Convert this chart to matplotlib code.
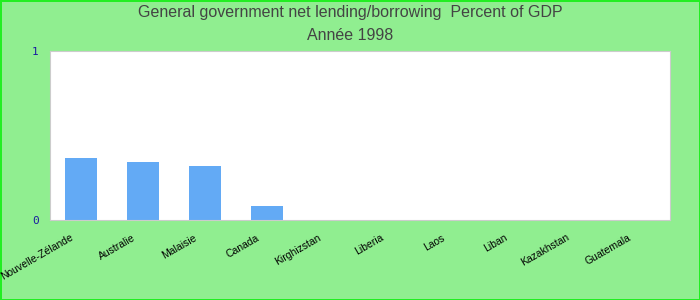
import matplotlib
matplotlib.use("Agg")
import matplotlib.pyplot as plt
from matplotlib.transforms import ScaledTranslation

countries = ["Nouvelle-Zélande", "Australie", "Malaisie", "Canada", "Kirghizstan",
             "Liberia", "Laos", "Liban", "Kazakhstan", "Guatemala"]
values = [0.367, 0.343, 0.32, 0.083, 0, 0, 0, 0, 0, 0]

plt.rcParams['font.family'] = ['Liberation Sans', 'DejaVu Sans']

fig = plt.figure(figsize=(7, 3), dpi=100, facecolor='#90ee90')
fig.patch.set_edgecolor('#22ee22')
fig.patch.set_linewidth(2)
ax = fig.add_axes([50/700, 1 - 220/300, 620/700, 169/300])
ax.set_facecolor('white')

pos = range(len(countries))
ax.bar(pos, values, width=0.52, color='#63aaf5')
ax.set_xlim(-0.5, len(countries) - 0.5)
ax.set_ylim(0, 1)
ax.set_yticks([0, 1])
ax.set_yticklabels(['0', '1'], family='DejaVu Sans Mono', color='#1a1aa0', fontsize=8)
ax.set_xticks(list(pos))
ax.set_xticklabels(countries, rotation=30, ha='right', rotation_mode='anchor', fontsize=7.5)
ax.tick_params(length=0, pad=8)
ax.tick_params(axis='x', pad=9)
shift = ScaledTranslation(-8/72, 0, fig.dpi_scale_trans)
for lab in ax.get_xticklabels():
    lab.set_transform(lab.get_transform() + shift)
for s in ax.spines.values():
    s.set_color('#cccccc')

fig.text(0.5, 1 - 13/300, "General government net lending/borrowing  Percent of GDP",
         ha='center', va='center', fontsize=11.5, color='#444444')
fig.text(0.5, 1 - 35/300, "Année 1998", ha='center', va='center', fontsize=11.5, color='#444444')

fig.savefig("out.png", dpi=100, facecolor=fig.get_facecolor(), edgecolor=fig.get_edgecolor())
